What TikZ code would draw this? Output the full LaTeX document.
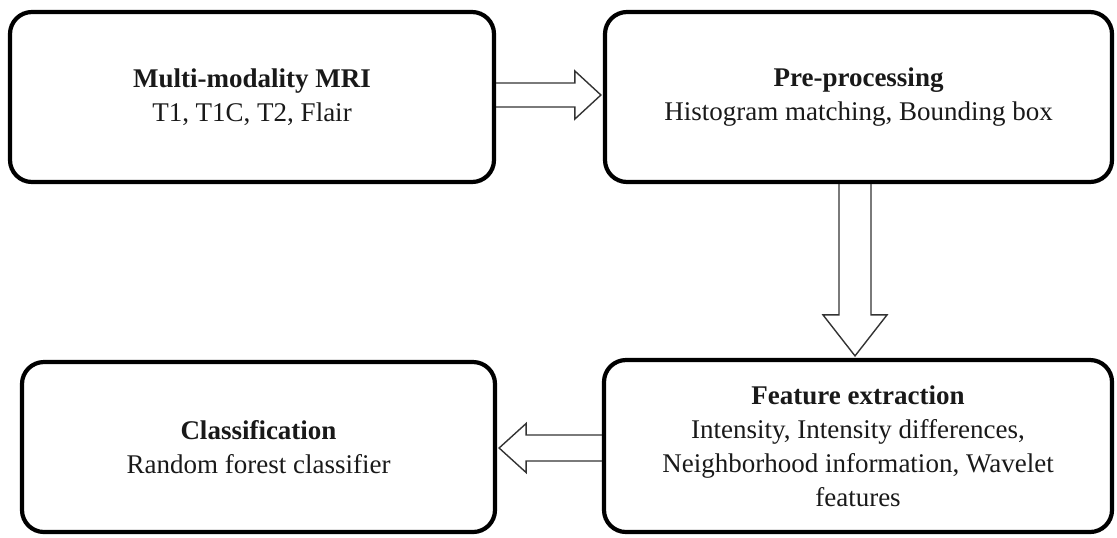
\documentclass[tikz,border=0pt]{standalone}
\usepackage{fontspec}
\setmainfont{Liberation Serif}
\usetikzlibrary{calc}

\tikzset{
  stagebox/.style={draw=black, line width=2.1pt, rounded corners=11pt,
    align=center, inner sep=2pt, text=black!90,
    font=\fontsize{13.5}{17}\selectfont},
  hollowarrow/.style={draw=black!80, line width=0.7pt, line join=miter}
}

\begin{document}
\begin{tikzpicture}[x=0.5pt,y=-0.5pt]
  \useasboundingbox (0,0) rectangle (1117,537);

  % processing stages
  \node[stagebox, minimum width=242pt, minimum height=85pt] (mri) at (252,97)
    {\textbf{Multi-modality MRI}\\T1, T1C, T2, Flair};
  \node[stagebox, minimum width=253.5pt, minimum height=85pt] (pre) at (858.5,97)
    {\textbf{Pre-processing}\\Histogram matching, Bounding box};
  \node[stagebox, minimum width=254pt, minimum height=86pt] (feat) at (858,446)
    {\textbf{Feature extraction}\\Intensity, Intensity differences,\\Neighborhood information, Wavelet\\features};
  \node[stagebox, minimum width=236.5pt, minimum height=85pt] (cls) at (258.5,447)
    {\textbf{Classification}\\Random forest classifier};

  % hollow block arrows between stages
  \coordinate (r0) at ($(mri.east)+(0,-2)$);
  \coordinate (r1) at ($(pre.west)+(-2,-2)$);
  \draw[hollowarrow] ($(r0)+(0,-12)$) -- ($(r1)+(-26,-12)$) -- ($(r1)+(-26,-24)$)
    -- (r1) -- ($(r1)+(-26,24)$) -- ($(r1)+(-26,12)$) -- ($(r0)+(0,12)$);

  \coordinate (d0) at ($(pre.south)+(-3.5,0)$);
  \coordinate (d1) at ($(feat.north)+(-3,-2)$);
  \draw[hollowarrow] ($(d0)+(-16,0)$) -- ($(d1)+(-16,-41)$) -- ($(d1)+(-32,-41)$)
    -- (d1) -- ($(d1)+(32,-41)$) -- ($(d1)+(16,-41)$) -- ($(d0)+(16,0)$);

  \coordinate (l0) at ($(feat.west)+(0,2)$);
  \coordinate (l1) at ($(cls.east)+(2,1)$);
  \draw[hollowarrow] ($(l0)+(0,-13)$) -- ($(l1)+(27,-13)$) -- ($(l1)+(27,-24.5)$)
    -- (l1) -- ($(l1)+(27,24.5)$) -- ($(l1)+(27,13)$) -- ($(l0)+(0,13)$);
\end{tikzpicture}
\end{document}
